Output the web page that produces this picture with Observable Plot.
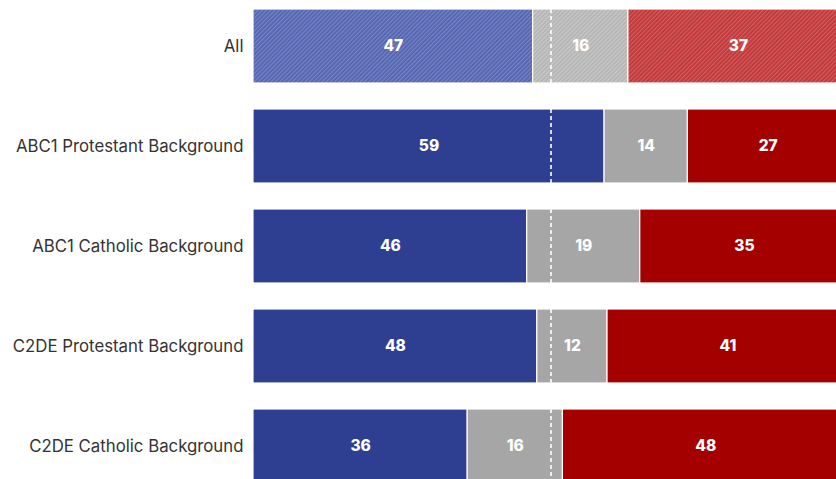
<!DOCTYPE html>
<html>
<head>
<meta charset="utf-8">
<script src="https://cdn.jsdelivr.net/npm/d3@7"></script>
<script src="https://cdn.jsdelivr.net/npm/@observablehq/plot@0.6"></script>
<style>
  html, body { margin: 0; padding: 0; background: #fff; overflow: hidden; }
  #chart { width: 836px; height: 479px; overflow: hidden; }
</style>
</head>
<body>
<div id="chart"></div>
<script>
// Data
const groups = ["All", "ABC1 Protestant Background", "ABC1 Catholic Background", "C2DE Protestant Background", "C2DE Catholic Background"];
const answers = ["Yes", "Don't know", "No"];
const yesValues = [47, 59, 46, 47.7, 36];
const dkValues = [16, 14, 19, 11.8, 16];
const noValues = [37, 27, 35, 40.5, 48];
const midline = [50];

// Styles
const solidColors = {"Yes": "#2e3e91", "Don't know": "#a6a6a6", "No": "#a40000"};
const hatchFills = {"Yes": "url(#hatch-yes)", "Don't know": "url(#hatch-dk)", "No": "url(#hatch-no)"};

const rows = [];
groups.forEach((g, i) => {
  const vals = [yesValues[i], dkValues[i], noValues[i]];
  let acc = 0;
  answers.forEach((a, j) => {
    const x1 = acc, x2 = acc + vals[j];
    acc = x2;
    rows.push({group: g, answer: a, value: vals[j], x1, x2, mid: (x1 + x2) / 2,
      fill: g === "All" ? hatchFills[a] : solidColors[a]});
  });
});
const midRows = groups.map(g => ({group: g, x: midline[0]}));

const plot = Plot.plot({
  width: 836,
  height: 500,
  marginLeft: 253,
  marginRight: 0,
  marginTop: 0,
  marginBottom: 0,
  style: {fontFamily: "Inter, sans-serif", background: "#fff", overflow: "hidden"},
  x: {domain: [0, 100], range: [253, 848], axis: null},
  y: {domain: groups, range: [-4, 496], paddingInner: 0.26, paddingOuter: 0.13, label: null},
  color: {type: "identity"},
  marks: [
    Plot.barX(rows, {x1: "x1", x2: "x2", y: "group", fill: "fill", stroke: "#fff", strokeWidth: 1.2}),
    Plot.tickX(midRows, {x: "x", y: "group", stroke: "#fff", strokeWidth: 1.6, strokeDasharray: "4,3"}),
    Plot.text(rows, {x: "mid", y: "group", text: d => String(Math.round(d.value)), fill: "#fff", fontSize: 15.5, fontWeight: 800}),
    Plot.axisY({tickSize: 0, tickPadding: 10, fontSize: 16.8, color: "#333", label: null})
  ]
});

// Hatch patterns for the "All" row
const ns = "http://www.w3.org/2000/svg";
const defs = document.createElementNS(ns, "defs");
const pats = [["hatch-yes", "#5161ad", "#7886c6"], ["hatch-dk", "#b2b2b2", "#cacaca"], ["hatch-no", "#bf3337", "#d2605f"]];
pats.forEach(([id, base, line]) => {
  const p = document.createElementNS(ns, "pattern");
  p.setAttribute("id", id);
  p.setAttribute("patternUnits", "userSpaceOnUse");
  p.setAttribute("width", "3");
  p.setAttribute("height", "3");
  p.setAttribute("patternTransform", "rotate(45)");
  const r = document.createElementNS(ns, "rect");
  r.setAttribute("width", "3"); r.setAttribute("height", "3"); r.setAttribute("fill", base);
  const l = document.createElementNS(ns, "rect");
  l.setAttribute("width", "1.3"); l.setAttribute("height", "3"); l.setAttribute("fill", line);
  p.appendChild(r); p.appendChild(l);
  defs.appendChild(p);
});
plot.insertBefore(defs, plot.firstChild);
document.getElementById("chart").appendChild(plot);
</script>
</body>
</html>
